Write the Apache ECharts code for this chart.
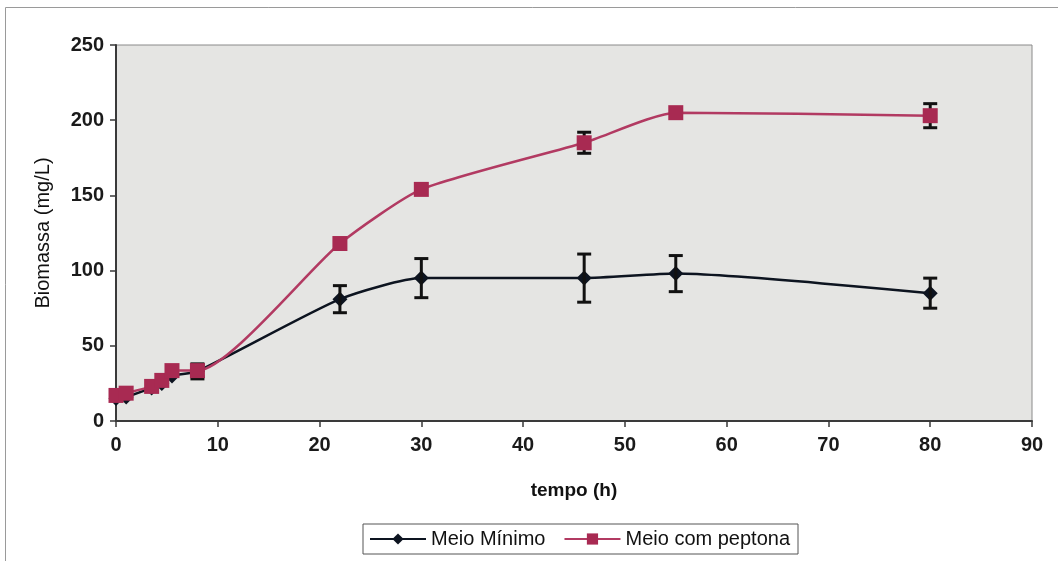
<!DOCTYPE html>
<html>
<head>
<meta charset="utf-8">
<title>Biomassa</title>
<script src="https://cdn.jsdelivr.net/npm/echarts@6/dist/echarts.min.js"></script>
<style>
  html, body { margin: 0; padding: 0; background: #ffffff; }
  #chart { width: 1058px; height: 561px; }
</style>
</head>
<body>
<div id="chart"></div>
<script>
// Sampling times (h)
const tempo = [0, 1, 3.5, 4.5, 5.5, 8, 22, 30, 46, 55, 80];

// Biomass (mg/L) and standard deviations
const meioMinimo = [15, 16, 22, 25, 30, 33, 81, 95, 95, 98, 85];
const erroMinimo = [0, 0, 0, 0, 0, 5, 9, 13, 16, 12, 10];

const meioPeptona = [17, 18.5, 23, 27, 33.5, 33.5, 118, 154, 185, 205, 203];
const erroPeptona = [0, 0, 0, 0, 0, 4, 0, 0, 7, 0, 8];

const xTicks = { min: 0, max: 90, interval: 10 };
const yTicks = { min: 0, max: 250, interval: 50 };

const seriesNames = ['Meio Mínimo', 'Meio com peptona'];
const colorMinimo = '#0d1420';
const colorPeptona = '#a82a52';
const lineColorPeptona = '#b23a62';

const FONT = '"Liberation Sans", Arial, sans-serif';

function pairs(xs, ys) {
  return xs.map((x, i) => [x, ys[i]]);
}
function errorData(xs, ys, es) {
  const out = [];
  xs.forEach((x, i) => {
    if (es[i] > 0) out.push([x, ys[i] - es[i], ys[i] + es[i]]);
  });
  return out;
}

// I-beam error bars drawn through the axis scales
function errorBarRenderer(color, lw) {
  return function (params, api) {
    const x = api.value(0);
    const lo = api.coord([x, api.value(1)]);
    const hi = api.coord([x, api.value(2)]);
    const half = 7;
    const style = { stroke: color, lineWidth: lw, fill: null };
    return {
      type: 'group',
      children: [
        { type: 'line', shape: { x1: hi[0], y1: hi[1], x2: lo[0], y2: lo[1] }, style },
        { type: 'line', shape: { x1: hi[0] - half, y1: hi[1], x2: hi[0] + half, y2: hi[1] }, style },
        { type: 'line', shape: { x1: lo[0] - half, y1: lo[1], x2: lo[0] + half, y2: lo[1] }, style }
      ]
    };
  };
}

const chart = echarts.init(document.getElementById('chart'), null, { renderer: 'canvas' });

chart.setOption({
  backgroundColor: '#ffffff',
  animation: false,
  graphic: [
    {
      type: 'rect',
      silent: true,
      z: -10,
      shape: { x: 5.5, y: 7.5, width: 1100, height: 600 },
      style: { fill: null, stroke: '#9a9a9a', lineWidth: 1 }
    }
  ],
  grid: {
    left: 116, right: 26, top: 45, bottom: 140,
    show: true,
    backgroundColor: '#e5e5e3',
    borderColor: '#8a8a8a',
    borderWidth: 1
  },
  legend: {
    data: seriesNames,
    left: 363,
    top: 524,
    orient: 'horizontal',
    itemWidth: 56,
    itemHeight: 14,
    itemGap: 18,
    padding: [5, 8, 5, 6],
    borderColor: '#555',
    borderWidth: 1,
    backgroundColor: '#ffffff',
    textStyle: { fontFamily: FONT, fontSize: 20, color: '#111' }
  },
  xAxis: {
    type: 'value',
    min: xTicks.min, max: xTicks.max, interval: xTicks.interval,
    name: 'tempo (h)',
    nameLocation: 'middle',
    nameGap: 60,
    nameTextStyle: { fontFamily: FONT, fontSize: 19, fontWeight: 'bold', color: '#111' },
    axisLine: { show: true, onZero: false, lineStyle: { color: '#3a3a3a', width: 2 } },
    axisTick: { show: true, inside: false, length: 6, lineStyle: { color: '#3a3a3a', width: 1.5 } },
    axisLabel: { fontFamily: FONT, fontSize: 20, fontWeight: 'bold', color: '#1a1a1a', margin: 14 },
    splitLine: { show: false }
  },
  yAxis: {
    type: 'value',
    min: yTicks.min, max: yTicks.max, interval: yTicks.interval,
    name: 'Biomassa (mg/L)',
    nameLocation: 'middle',
    nameGap: 63,
    nameRotate: 90,
    nameTextStyle: { fontFamily: FONT, fontSize: 20, color: '#111' },
    axisLine: { show: true, lineStyle: { color: '#3a3a3a', width: 2 } },
    axisTick: { show: true, inside: false, length: 6, lineStyle: { color: '#3a3a3a', width: 1.5 } },
    axisLabel: { fontFamily: FONT, fontSize: 20, fontWeight: 'bold', color: '#1a1a1a', margin: 12 },
    splitLine: { show: false }
  },
  series: [
    {
      name: seriesNames[0],
      type: 'line',
      data: pairs(tempo, meioMinimo),
      smooth: 0.2,
      symbol: 'diamond',
      symbolSize: 15,
      color: colorMinimo,
      lineStyle: { color: colorMinimo, width: 2.5 },
      itemStyle: { color: colorMinimo },
      z: 2
    },
    {
      name: seriesNames[0],
      type: 'custom',
      data: errorData(tempo, meioMinimo, erroMinimo),
      renderItem: errorBarRenderer('#111111', 3),
      z: 3
    },
    {
      name: seriesNames[1],
      type: 'line',
      data: pairs(tempo, meioPeptona),
      smooth: 0.2,
      symbol: 'rect',
      symbolSize: 15,
      color: colorPeptona,
      lineStyle: { color: lineColorPeptona, width: 2.5 },
      itemStyle: { color: colorPeptona },
      z: 4
    },
    {
      name: seriesNames[1],
      type: 'custom',
      data: errorData(tempo, meioPeptona, erroPeptona),
      renderItem: errorBarRenderer('#111111', 3),
      z: 3
    }
  ]
});
</script>
</body>
</html>
